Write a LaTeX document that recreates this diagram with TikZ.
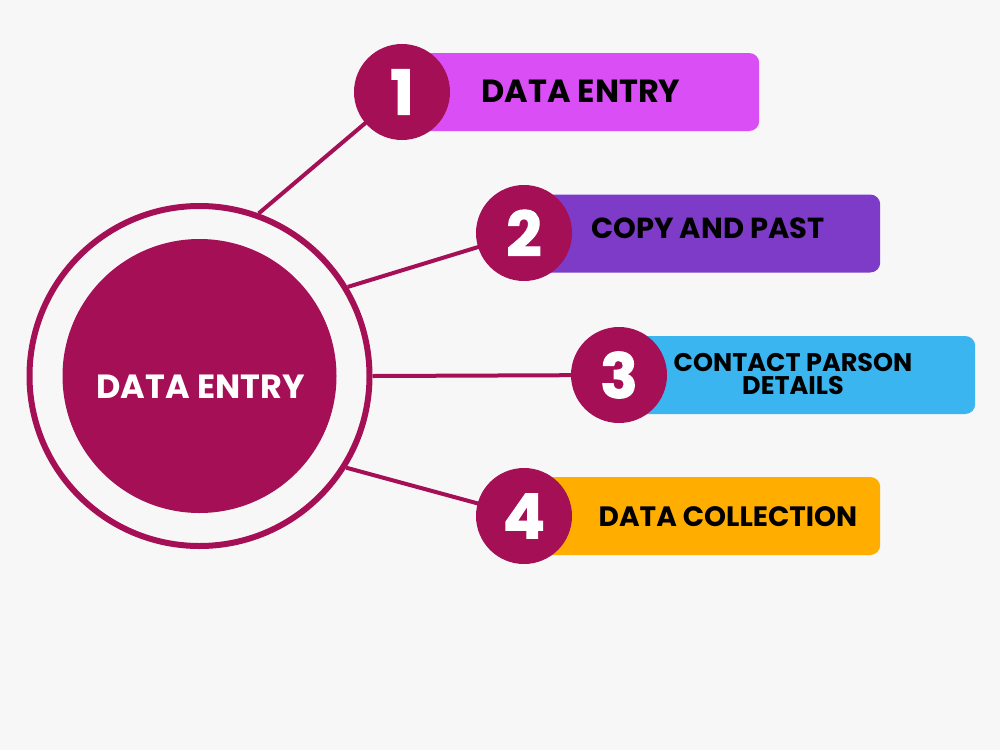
\documentclass[tikz,border=0pt]{standalone}
\usepackage{fontspec}
\setmainfont{Poppins}
\newfontfamily\heavyfont{Poppins}[BoldFeatures={FakeBold=1.8}]
\definecolor{bgc}{HTML}{F7F7F7}
\definecolor{crim}{HTML}{A50F55}
\definecolor{pinkc}{HTML}{D94FF5}
\definecolor{purpc}{HTML}{7E3BC7}
\definecolor{bluec}{HTML}{3BB5F0}
\definecolor{orangec}{HTML}{FFAE00}
\tikzset{
  bar/.style={rounded corners=10pt, minimum height=78pt, inner sep=0pt, anchor=west},
  num/.style={circle, fill=crim, minimum size=96pt, inner sep=0pt, text=white, font=\heavyfont\bfseries\fontsize{62}{62}\selectfont},
  lbl/.style={text=black, font=\bfseries\fontsize{#1}{23.5}\selectfont, align=center, inner sep=0pt},
  conn/.style={draw=crim, line width=4pt}
}
\begin{document}
\begin{tikzpicture}[x=1pt,y=-1pt]
\fill[bgc] (0,0) rectangle (1000,750);
\useasboundingbox (0,0) rectangle (1000,750);
% central circle
\node[circle, draw=crim, line width=6pt, minimum size=340pt, inner sep=0pt] (ring) at (199.5,376) {};
\node[circle, fill=crim, minimum size=274pt, inner sep=0pt] (core) at (199.5,376) {};
\node[text=white, font=\bfseries\fontsize{33.5}{33.5}\selectfont, inner sep=0pt] (coretext) at (200.5,386.5) {DATA ENTRY};
% bars
\node[bar, fill=pinkc, minimum width=357pt] (r1) at (402,92) {};
\node[bar, fill=purpc, minimum width=356pt] (r2) at (524,233.5) {};
\node[bar, fill=bluec, minimum width=356pt] (r3) at (619,375) {};
\node[bar, fill=orangec, minimum width=356pt] (r4) at (524,516) {};
% number circles
\coordinate (c1) at (402,92);
\coordinate (c2) at (524,233);
\coordinate (c3) at (619,375);
\coordinate (c4) at (524,516);
\draw[conn] (ring.70.3) -- (c1);
\draw[conn] (ring.31.1) -- (c2);
\draw[conn] (ring.0) -- (c3);
\draw[conn] (ring.-32.4) -- (c4);
\node[num] (n1) at (c1) {1};
\node[num] (n2) at (c2) {2};
\node[num] (n3) at (c3) {3};
\node[num] (n4) at (c4) {4};
% labels
\node[lbl=32] (t1) at (581,91) {DATA ENTRY};
\node[lbl=29] (t2) at (708,228) {COPY AND PAST};
\node[lbl=25.5] (t3) at (793,374) {CONTACT PARSON\\DETAILS};
\node[lbl=28] (t4) at (728,517) {DATA COLLECTION};
\end{tikzpicture}
\end{document}
